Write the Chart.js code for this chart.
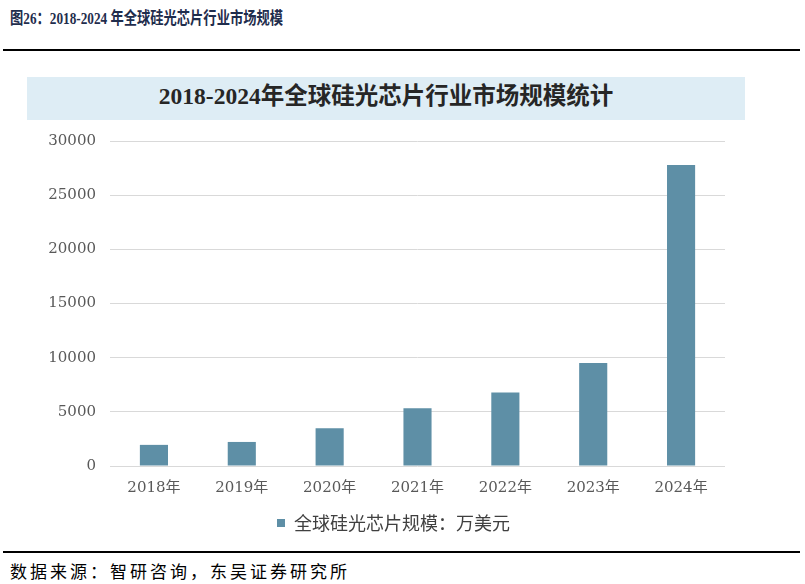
<!DOCTYPE html>
<html lang="zh">
<head>
<meta charset="UTF-8">
<title>全球硅光芯片行业市场规模</title>
<script src="https://cdn.jsdelivr.net/npm/chart.js"></script>
<style>
  body { margin: 0; width: 805px; height: 584px; background: #fff; position: relative; overflow: hidden; }
  #fig { position: absolute; left: 10px; top: 4px; font: bold 17px "Liberation Serif", "Noto Sans CJK SC", serif; color: #1f2d4d;
         transform: scaleX(0.78); transform-origin: left top; white-space: nowrap; }
  .rule { position: absolute; left: 3px; width: 797px; background: #000; }
  #box { position: absolute; left: 27px; top: 77px; width: 718px; height: 43px; background: #deedf5;
         text-align: center; line-height: 45px; font: bold 23.5px "Liberation Serif", "Noto Sans CJK SC", serif; color: #262626; }
  #src { position: absolute; left: 10px; top: 558px; font: 17px "Noto Sans CJK SC", sans-serif; letter-spacing: 3px; color: #000; }
  #wrap { position: absolute; left: 0; top: 118px; width: 805px; height: 424px; }
</style>
</head>
<body>
<div id="fig">图26：2018-2024 年全球硅光芯片行业市场规模</div>
<div class="rule" style="top:49px;height:2px"></div>
<div id="box">2018-2024年全球硅光芯片行业市场规模统计</div>
<div id="wrap"><canvas id="bar"></canvas></div>
<div class="rule" style="top:551px;height:1.5px"></div>
<div id="src">数据来源：智研咨询，东吴证券研究所</div>
<script>
// values, 万美元
const years = ['2018年', '2019年', '2020年', '2021年', '2022年', '2023年', '2024年'];
const marketSize = [1950, 2220, 3490, 5340, 6790, 9510, 27780];
const seriesName = '全球硅光芯片规模：万美元';
const yTicks = [0, 5000, 10000, 15000, 20000, 25000, 30000];

const barColor = '#5e8fa6';
const tickFont = { family: '"DejaVu Serif", "Noto Sans CJK SC", serif', size: 15 };

// legend sits a bit right of the canvas centre in the original
const nudgeLegend = {
  id: 'nudgeLegend',
  afterLayout(chart) {
    chart.legend.left += 31;
    chart.legend.right += 31;
  }
};

new Chart(document.getElementById('bar'), {
  type: 'bar',
  data: {
    labels: years,
    datasets: [{
      label: seriesName,
      data: marketSize,
      backgroundColor: barColor,
      barPercentage: 0.32,
      categoryPercentage: 1
    }]
  },
  plugins: [nudgeLegend],
  options: {
    responsive: true,
    maintainAspectRatio: false,
    animation: false,
    layout: { padding: { left: 0, right: 80, top: 2, bottom: 0 } },
    plugins: {
      title: { display: false },
      tooltip: { enabled: false },
      legend: {
        position: 'bottom',
        labels: {
          boxWidth: 8, boxHeight: 8, padding: 12,
          color: '#404040',
          font: { family: '"Noto Sans CJK SC", sans-serif', size: 18 }
        }
      }
    },
    scales: {
      x: {
        grid: { display: false },
        border: { display: false },
        ticks: { color: '#595959', font: tickFont, padding: 5 }
      },
      y: {
        min: 0, max: 30000,
        afterFit: (s) => { s.width = 110; },
        afterBuildTicks: (s) => { s.ticks = yTicks.map(v => ({ value: v })); },
        grid: { color: '#d9d9d9', lineWidth: 1, drawTicks: false },
        border: { display: false },
        ticks: { color: '#595959', font: tickFont, padding: 14, callback: (v) => String(v) }
      }
    }
  }
});
</script>
</body>
</html>
